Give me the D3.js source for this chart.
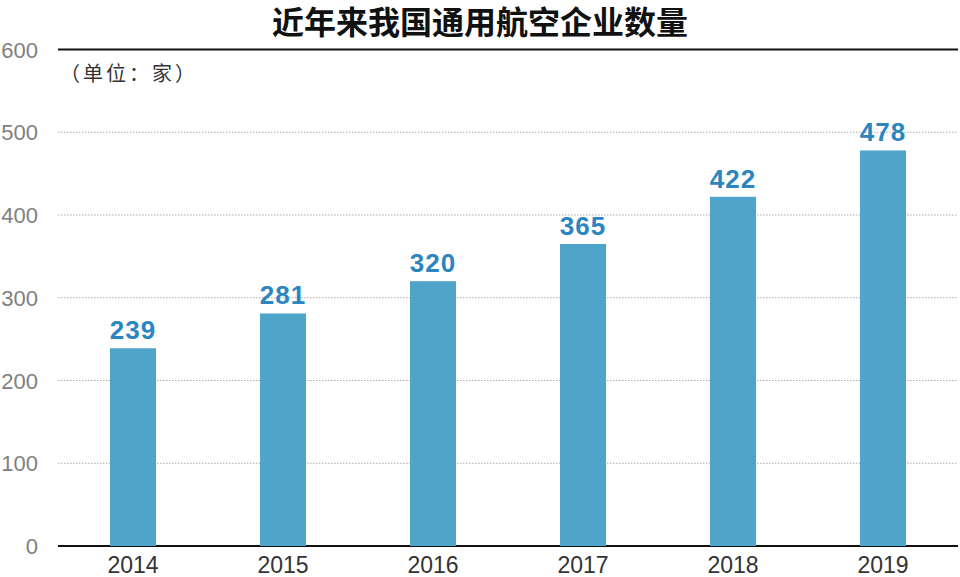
<!DOCTYPE html>
<html><head><meta charset="utf-8">
<script src="https://cdn.jsdelivr.net/npm/d3@7"></script>
<style>body{margin:0;background:#fff}svg{display:block}</style>
</head><body>
<svg id="c" width="960" height="577"></svg>
<script>
const title = "近年来我国通用航空企业数量";
const unitLabel = "（单位：家）";
const years = ["2014","2015","2016","2017","2018","2019"];
const counts = [239, 281, 320, 365, 422, 478];
const yTicks = [0,100,200,300,400,500,600];

const svg = d3.select("#c");
const x = d3.scaleBand().domain(years).range([58, 958]).paddingInner(0.6933).paddingOuter(0.3467);
const y = d3.scaleLinear().domain([0, 600]).range([546, 49.5]);

svg.append("text").attr("x", 480).attr("y", 34).attr("text-anchor","middle")
  .attr("font-family","'Noto Sans CJK SC'").attr("font-weight","bold").attr("font-size",32)
  .attr("fill","#111").text(title);

// gridlines
const grid = svg.append("g");
yTicks.forEach(t => {
  const solid = (t === 0 || t === 600);
  grid.append("line").attr("x1",58).attr("x2",958).attr("y1",y(t)).attr("y2",y(t))
    .attr("stroke", solid ? "#111" : "#aaa").attr("stroke-width", solid ? 2 : 1)
    .attr("stroke-dasharray", solid ? null : "1.5,1.5");
});

// y axis labels
const yAxis = d3.axisLeft(y).tickValues(yTicks).tickSize(0).tickPadding(0);
const ya = svg.append("g").attr("transform","translate(38,0)").call(yAxis);
ya.select(".domain").remove();
ya.selectAll("text").attr("font-family","'Liberation Sans',Arial,sans-serif").attr("font-size",22)
  .attr("fill","#808080").attr("dy","0.35em");

svg.append("text").attr("x",60).attr("y",81).attr("font-family","'Noto Sans CJK SC'")
  .attr("font-size",20).attr("letter-spacing",3).attr("fill","#333").text(unitLabel);

// bars
svg.append("g").selectAll("rect").data(years).join("rect")
  .attr("x", d => x(d)).attr("width", x.bandwidth())
  .attr("y", (d,i) => y(counts[i])).attr("height", (d,i) => y(0) - y(counts[i]))
  .attr("fill","#4fa4c9");

svg.append("g").selectAll("text").data(years).join("text")
  .attr("x", d => x(d) + x.bandwidth()/2).attr("y", (d,i) => y(counts[i]) - 9)
  .attr("text-anchor","middle").attr("font-family","'Liberation Sans',Arial,sans-serif")
  .attr("font-weight","bold").attr("font-size",26).attr("letter-spacing",1)
  .attr("fill","#2b86bf").text((d,i) => counts[i]);

// x axis labels
const xAxis = d3.axisBottom(x).tickSize(0).tickPadding(0);
const xa = svg.append("g").attr("transform","translate(0,573)").call(xAxis);
xa.select(".domain").remove();
xa.selectAll("text").attr("dy",0).attr("font-family","'Liberation Sans',Arial,sans-serif")
  .attr("font-size",23).attr("fill","#333");
</script>
</body></html>
